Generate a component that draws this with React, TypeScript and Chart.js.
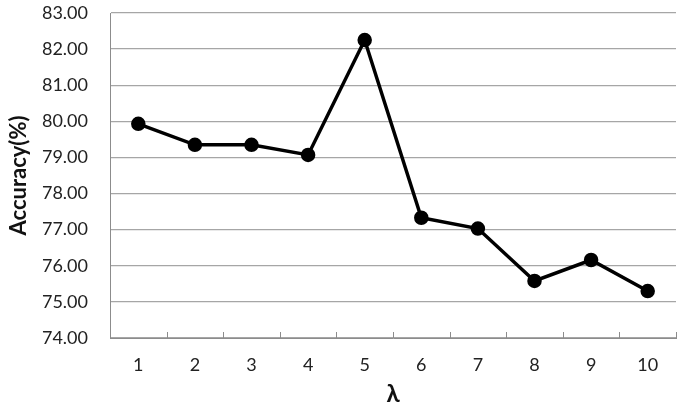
import React, { useEffect, useRef } from "react";
import { Chart, registerables } from "chart.js";

Chart.register(...registerables);

const categories = ["1", "2", "3", "4", "5", "6", "7", "8", "9", "10"];
const accuracy = [79.93, 79.35, 79.35, 79.07, 82.25, 77.33, 77.03, 75.58, 76.16, 75.3];
const yMin = 74;
const yMax = 83;
const yStep = 1;

const FONT = "Lato, 'Open Sans', sans-serif";

const innerTicks = {
  id: "innerTicks",
  afterDraw(chart: any) {
    const xs = chart.scales.x;
    const ctx = chart.ctx;
    const bottom = chart.chartArea.bottom;
    ctx.save();
    ctx.strokeStyle = "#8c8c8c";
    ctx.lineWidth = 1;
    for (let i = 0; i <= categories.length; i++) {
      const x = Math.round(xs.getPixelForValue(i - 0.5)) + 0.5;
      ctx.beginPath();
      ctx.moveTo(x, bottom);
      ctx.lineTo(x, bottom - 6);
      ctx.stroke();
    }
    ctx.restore();
  },
};

export default function App() {
  const ref = useRef<HTMLCanvasElement>(null);
  useEffect(() => {
    if (!ref.current) return;
    const chart = new Chart(ref.current, {
      type: "line",
      data: {
        labels: categories,
        datasets: [
          {
            data: accuracy,
            borderColor: "#000",
            backgroundColor: "#000",
            borderWidth: 3.5,
            pointRadius: 5.5,
            pointBackgroundColor: "#000",
            pointBorderColor: "#000",
            tension: 0,
          },
        ],
      },
      options: {
        animation: false,
        responsive: false,
        maintainAspectRatio: false,
        layout: { padding: { top: 13, right: 4, left: 0, bottom: 0 } },
        plugins: { legend: { display: false }, tooltip: { enabled: false } },
        scales: {
          x: {
            offset: true,
            grid: { display: false, drawTicks: false },
            border: { display: true, color: "#8c8c8c", width: 1 },
            ticks: { color: "#222", font: { family: FONT, size: 18 }, padding: 16 },
            title: {
              display: true,
              text: "λ",
              color: "#111",
              font: { family: FONT, size: 24, weight: "bold" },
              padding: { top: 0, bottom: 0 },
            },
            afterFit(scale: any) {
              scale.height = 71;
              scale.paddingLeft = 0;
              scale.paddingRight = 0;
            },
          },
          y: {
            min: yMin,
            max: yMax,
            grid: { color: "#a6a6a6", lineWidth: 1.3, drawTicks: false },
            border: { display: true, color: "#8c8c8c", width: 1 },
            ticks: {
              stepSize: yStep,
              color: "#222",
              font: { family: FONT, size: 18 },
              padding: 22,
              callback: (v: any) => Number(v).toFixed(2),
            },
            title: {
              display: true,
              text: "Accuracy(%)",
              color: "#111",
              font: { family: FONT, size: 22, weight: "bold" },
              padding: { top: 6, bottom: 0 },
            },
            afterFit(scale: any) {
              scale.width = 110;
              scale.paddingTop = 0;
              scale.paddingBottom = 0;
            },
          },
        },
      },
      plugins: [innerTicks],
    });
    return () => chart.destroy();
  }, []);
  return (
    <div style={{ position: "fixed", left: 0, top: 0, width: 685, height: 409, background: "#fff" }}>
      <canvas ref={ref} width={685} height={409} style={{ width: 685, height: 409 }} />
    </div>
  );
}
